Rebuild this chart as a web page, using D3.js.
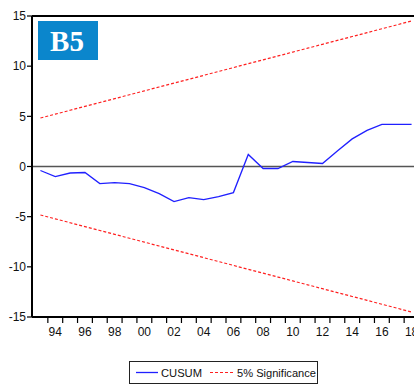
<!DOCTYPE html>
<html>
<head>
<script src="https://cdnjs.cloudflare.com/ajax/libs/d3/7.8.5/d3.min.js"></script>
<style>
  body { margin: 0; background: #fff; }
  svg { display: block; font-family: "Liberation Sans", Arial, sans-serif; }
</style>
</head>
<body>
<div id="chart"></div>
<script>
  const width = 414;
  const height = 385;

  // data
  const years = d3.range(1993, 2019);
  const cusum = [-0.4, -1.0, -0.65, -0.6, -1.7, -1.6, -1.7, -2.1, -2.7, -3.5,
                 -3.1, -3.3, -3.0, -2.6, 1.2, -0.2, -0.2, 0.5, 0.4, 0.3,
                 1.55, 2.75, 3.6, 4.2, 4.2, 4.2];
  const sigStart = 4.83;   // bound at first observation
  const sigEnd = 14.5;     // bound at last observation
  const yTicks = [15, 10, 5, 0, -5, -10, -15];
  const labelYears = d3.range(1994, 2019, 2);

  const upper = years.map((yr, i) => sigStart + (sigEnd - sigStart) * i / (years.length - 1));
  const lower = upper.map(v => -v);

  const margin = {left: 32, top: 16, bottom: 317};

  const x = d3.scaleLinear().domain([1992.5, 2018.5]).range([33, 419]);
  const y = d3.scaleLinear().domain([-15, 15]).range([margin.bottom, margin.top]);

  const svg = d3.select("#chart").append("svg")
      .attr("width", width)
      .attr("height", height);

  // zero line
  svg.append("line")
      .attr("x1", margin.left).attr("x2", width)
      .attr("y1", y(0)).attr("y2", y(0))
      .attr("stroke", "#555").attr("stroke-width", 1.5);

  const line = d3.line().x((d, i) => x(years[i])).y(d => y(d));

  svg.append("path").datum(upper)
      .attr("d", line).attr("fill", "none")
      .attr("stroke", "#ff2020").attr("stroke-width", 1.2)
      .attr("stroke-dasharray", "3,2");
  svg.append("path").datum(lower)
      .attr("d", line).attr("fill", "none")
      .attr("stroke", "#ff2020").attr("stroke-width", 1.2)
      .attr("stroke-dasharray", "3,2");

  svg.append("path").datum(cusum)
      .attr("d", line).attr("fill", "none")
      .attr("stroke", "#2020ff").attr("stroke-width", 1.3);

  // frame: top, left, bottom
  svg.append("line")
      .attr("x1", margin.left).attr("x2", width)
      .attr("y1", margin.top).attr("y2", margin.top)
      .attr("stroke", "#000").attr("stroke-width", 2);
  svg.append("line")
      .attr("x1", margin.left).attr("x2", margin.left)
      .attr("y1", margin.top).attr("y2", margin.bottom)
      .attr("stroke", "#000").attr("stroke-width", 2);
  svg.append("line")
      .attr("x1", margin.left).attr("x2", width)
      .attr("y1", margin.bottom).attr("y2", margin.bottom)
      .attr("stroke", "#000").attr("stroke-width", 2);

  // y axis ticks and labels
  yTicks.forEach(t => {
    svg.append("line")
        .attr("x1", margin.left - 5).attr("x2", margin.left)
        .attr("y1", y(t)).attr("y2", y(t))
        .attr("stroke", "#000").attr("stroke-width", 1.2);
    svg.append("text")
        .attr("x", margin.left - 6).attr("y", y(t))
        .attr("dy", "0.35em")
        .attr("text-anchor", "end")
        .attr("font-size", 12)
        .attr("fill", "#111")
        .text(t);
  });

  // x axis ticks at year boundaries
  d3.range(1993.5, 2019, 1).forEach(b => {
    svg.append("line")
        .attr("x1", x(b)).attr("x2", x(b))
        .attr("y1", margin.bottom).attr("y2", margin.bottom + 6)
        .attr("stroke", "#000").attr("stroke-width", 1.2);
  });
  labelYears.forEach(yr => {
    svg.append("text")
        .attr("x", x(yr)).attr("y", 336)
        .attr("text-anchor", "middle")
        .attr("font-size", 12)
        .attr("fill", "#111")
        .text(String(yr % 100).padStart(2, "0"));
  });

  // B5 badge
  svg.append("rect")
      .attr("x", 38).attr("y", 21)
      .attr("width", 60).attr("height", 39)
      .attr("fill", "#0b86cc");
  svg.append("text")
      .attr("x", 67).attr("y", 51)
      .attr("text-anchor", "middle")
      .attr("font-family", "'Liberation Serif', 'DejaVu Serif', serif")
      .attr("font-weight", "bold")
      .attr("font-size", 29)
      .attr("fill", "#fff")
      .text("B5");

  // legend
  const lg = svg.append("g");
  lg.append("rect")
      .attr("x", 129.5).attr("y", 361.5)
      .attr("width", 188).attr("height", 22)
      .attr("fill", "#fff").attr("stroke", "#222").attr("stroke-width", 1);
  lg.append("line")
      .attr("x1", 136).attr("x2", 158).attr("y1", 372.5).attr("y2", 372.5)
      .attr("stroke", "#2020ff").attr("stroke-width", 1.3);
  lg.append("text")
      .attr("x", 161).attr("y", 372.5).attr("dy", "0.35em")
      .attr("font-size", 11.5).attr("fill", "#111")
      .attr("textLength", 41).attr("lengthAdjust", "spacingAndGlyphs")
      .text("CUSUM");
  lg.append("line")
      .attr("x1", 210).attr("x2", 233).attr("y1", 372.5).attr("y2", 372.5)
      .attr("stroke", "#ff2020").attr("stroke-width", 1.2)
      .attr("stroke-dasharray", "3,2");
  lg.append("text")
      .attr("x", 237).attr("y", 372.5).attr("dy", "0.35em")
      .attr("font-size", 11.5).attr("fill", "#111")
      .attr("textLength", 79).attr("lengthAdjust", "spacingAndGlyphs")
      .text("5% Significance");
</script>
</body>
</html>
